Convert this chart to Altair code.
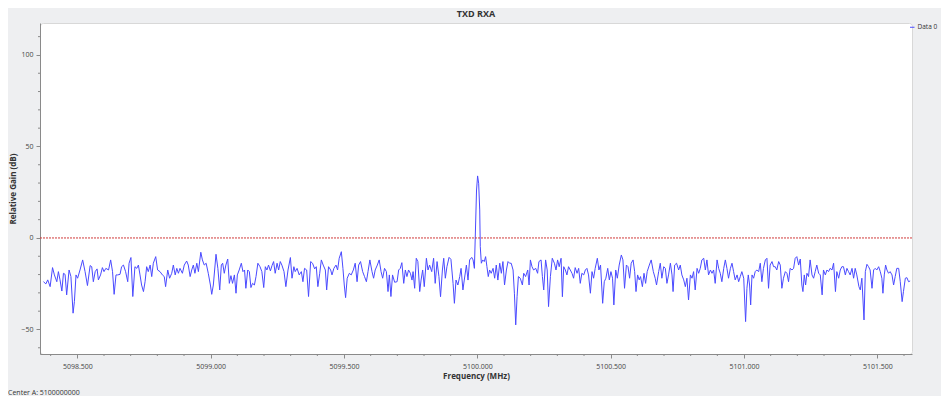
import altair as alt
import pandas as pd

# ---------------- data ----------------
freqA = [5098.373, 5098.382, 5098.389, 5098.398, 5098.407, 5098.414, 5098.423, 5098.429, 5098.435, 5098.442,
         5098.448, 5098.454, 5098.460, 5098.469, 5098.476, 5098.484, 5098.489, 5098.495, 5098.501, 5098.510,
         5098.520, 5098.529, 5098.538, 5098.548, 5098.554, 5098.560, 5098.567, 5098.574, 5098.579, 5098.587,
         5098.594, 5098.600, 5098.607, 5098.617, 5098.625, 5098.632, 5098.638, 5098.645, 5098.651, 5098.660,
         5098.666, 5098.673, 5098.681, 5098.689, 5098.694, 5098.701, 5098.708, 5098.716, 5098.723, 5098.729,
         5098.735, 5098.741, 5098.748, 5098.754, 5098.760, 5098.766, 5098.773, 5098.779, 5098.785, 5098.794,
         5098.801, 5098.810, 5098.819, 5098.826, 5098.831, 5098.839, 5098.846, 5098.854, 5098.860, 5098.867,
         5098.873, 5098.879, 5098.885, 5098.894, 5098.901, 5098.910, 5098.916, 5098.923, 5098.929, 5098.935,
         5098.941, 5098.948, 5098.954, 5098.963, 5098.969, 5098.976, 5098.983, 5098.991, 5098.999, 5099.004,
         5099.010]
gainA = [-23.9, -25.1, -22.9, -26.6, -16.2, -20.2, -23.9, -18.4, -22.9, -29.0,
         -19.3, -19.9, -31.1, -17.5, -21.1, -41.1, -34.8, -20.2, -22.0, -17.5,
         -12.0, -18.4, -26.0, -15.1, -15.7, -23.9, -18.4, -16.9, -22.9, -20.2,
         -16.2, -18.4, -16.6, -17.5, -12.0, -18.4, -30.8, -20.2, -20.2, -19.9,
         -15.7, -14.8, -18.4, -23.9, -13.8, -10.7, -32.0, -15.7, -16.6, -14.8,
         -20.2, -25.7, -29.3, -23.9, -15.7, -18.4, -14.8, -21.1, -13.8, -10.2,
         -17.5, -18.4, -20.2, -21.1, -26.6, -17.5, -22.0, -19.3, -14.8, -20.2,
         -16.6, -19.3, -16.6, -19.3, -14.8, -12.6, -14.8, -21.1, -17.5, -14.8,
         -19.3, -13.8, -18.4, -7.8, -12.0, -14.8, -13.8, -19.3, -25.7, -30.8,
         -25.7]

freqB = [5099.020, 5099.027, 5099.034, 5099.040, 5099.045, 5099.051, 5099.057, 5099.064, 5099.070, 5099.076,
         5099.082, 5099.089, 5099.095, 5099.100, 5099.107, 5099.115, 5099.121, 5099.127, 5099.132, 5099.139,
         5099.145, 5099.151, 5099.157, 5099.164, 5099.170, 5099.177, 5099.185, 5099.192, 5099.199, 5099.205,
         5099.211, 5099.217, 5099.224, 5099.230, 5099.236, 5099.242, 5099.249, 5099.255, 5099.261, 5099.267,
         5099.275, 5099.282, 5099.290, 5099.299, 5099.305, 5099.312, 5099.317, 5099.324, 5099.332, 5099.340,
         5099.346, 5099.352, 5099.360, 5099.367, 5099.375, 5099.382, 5099.390, 5099.396, 5099.402, 5099.409,
         5099.415, 5099.422, 5099.430, 5099.435, 5099.442, 5099.450, 5099.455, 5099.462, 5099.470, 5099.476,
         5099.482, 5099.490, 5099.496, 5099.501, 5099.506, 5099.512, 5099.520, 5099.527, 5099.535, 5099.542,
         5099.549, 5099.555, 5099.562, 5099.570, 5099.577, 5099.584, 5099.590, 5099.597, 5099.605, 5099.611,
         5099.617, 5099.625, 5099.632, 5099.639, 5099.645, 5099.652, 5099.659, 5099.665, 5099.670, 5099.676,
         5099.682, 5099.690]
gainB = [-8.9, -16.6, -28.4, -14.8, -13.8, -19.3, -14.8, -11.5, -24.8, -20.6,
         -24.8, -20.2, -30.2, -20.2, -17.5, -13.8, -18.4, -17.5, -27.5, -17.5,
         -18.4, -27.1, -24.8, -25.7, -21.1, -13.8, -15.7, -18.4, -27.1, -15.7,
         -17.5, -14.8, -18.0, -15.1, -12.9, -19.3, -13.8, -17.5, -12.9, -14.8,
         -18.4, -26.6, -17.5, -10.7, -22.0, -15.7, -18.4, -16.6, -20.2, -18.4,
         -23.9, -16.6, -17.5, -32.0, -12.9, -13.8, -16.9, -15.7, -26.6, -19.3,
         -12.0, -14.8, -17.5, -28.4, -15.7, -17.5, -20.2, -16.6, -14.8, -17.5,
         -11.1, -7.5, -16.6, -25.7, -32.6, -22.0, -19.3, -20.2, -17.5, -13.8,
         -23.9, -14.8, -12.9, -18.4, -21.1, -23.9, -18.4, -12.0, -18.4, -22.0,
         -17.5, -14.8, -12.0, -18.4, -22.0, -16.6, -18.4, -29.3, -20.2, -32.0,
         -20.2, -24.2]

freqC = [5099.699, 5099.705, 5099.711, 5099.717, 5099.724, 5099.730, 5099.736, 5099.742, 5099.749, 5099.755,
         5099.759, 5099.765, 5099.771, 5099.777, 5099.784, 5099.789, 5099.795, 5099.801, 5099.809, 5099.815,
         5099.821, 5099.829, 5099.836, 5099.842, 5099.849, 5099.856, 5099.862, 5099.869, 5099.874, 5099.880,
         5099.886, 5099.894, 5099.901, 5099.909, 5099.914, 5099.920, 5099.927, 5099.934, 5099.939, 5099.946,
         5099.951, 5099.959, 5099.965, 5099.971, 5099.979, 5099.984, 5099.989, 5099.994, 5099.997, 5100.001,
         5100.005, 5100.009, 5100.011, 5100.015, 5100.020, 5100.026, 5100.031, 5100.036, 5100.041, 5100.046,
         5100.052, 5100.059, 5100.065, 5100.071, 5100.077, 5100.084, 5100.090, 5100.096, 5100.102, 5100.109,
         5100.115, 5100.121, 5100.127, 5100.134, 5100.139, 5100.144, 5100.149, 5100.154, 5100.161, 5100.169,
         5100.174, 5100.181, 5100.189, 5100.194, 5100.199, 5100.205, 5100.211, 5100.219, 5100.226, 5100.231,
         5100.239, 5100.244, 5100.249, 5100.256, 5100.262, 5100.267, 5100.274, 5100.281, 5100.289, 5100.295,
         5100.301, 5100.307, 5100.314, 5100.319, 5100.324, 5100.330, 5100.336, 5100.342]
gainC = [-23.9, -17.5, -16.6, -13.5, -24.8, -17.5, -21.1, -17.5, -19.3, -23.0,
         -18.4, -27.5, -11.1, -12.9, -29.3, -23.0, -17.5, -26.6, -11.1, -17.5,
         -14.8, -18.4, -11.1, -24.8, -12.9, -21.1, -32.1, -17.5, -11.1, -22.0,
         -15.7, -10.6, -11.7, -24.8, -35.7, -23.0, -25.7, -21.1, -16.6, -28.4,
         -23.0, -14.8, -23.0, -12.0, -10.6, -12.0, -16.6, 9.8, 26.2, 33.9,
         29.9, 15.3, -4.7, -13.8, -12.0, -12.9, -10.2, -15.7, -21.1, -17.5,
         -19.3, -16.6, -22.0, -14.8, -23.0, -13.8, -19.3, -12.9, -25.7, -17.5,
         -12.9, -13.8, -13.8, -17.5, -30.2, -47.5, -32.1, -21.1, -22.0, -25.7,
         -19.3, -21.1, -17.5, -25.7, -12.0, -15.7, -17.5, -16.6, -19.3, -12.9,
         -12.0, -21.1, -28.4, -12.0, -17.5, -37.5, -21.1, -11.1, -13.8, -17.5,
         -12.0, -15.7, -11.1, -32.1, -15.7, -17.5, -20.2, -15.7]

freqD = [5100.355, 5100.361, 5100.367, 5100.374, 5100.380, 5100.386, 5100.392, 5100.399, 5100.405, 5100.411,
         5100.417, 5100.424, 5100.430, 5100.436, 5100.442, 5100.450, 5100.456, 5100.462, 5100.470, 5100.476,
         5100.482, 5100.489, 5100.495, 5100.501, 5100.507, 5100.512, 5100.519, 5100.525, 5100.532, 5100.540,
         5100.546, 5100.552, 5100.559, 5100.565, 5100.571, 5100.577, 5100.584, 5100.590, 5100.595, 5100.601,
         5100.607, 5100.612, 5100.619, 5100.625, 5100.631, 5100.637, 5100.645, 5100.652, 5100.660, 5100.667,
         5100.672, 5100.680, 5100.686, 5100.692, 5100.699, 5100.705, 5100.711, 5100.717, 5100.724, 5100.730,
         5100.734, 5100.740, 5100.747, 5100.755, 5100.761, 5100.767, 5100.774, 5100.780, 5100.786, 5100.792,
         5100.799, 5100.805, 5100.811, 5100.817, 5100.824, 5100.830, 5100.836, 5100.842, 5100.849, 5100.855,
         5100.861, 5100.867, 5100.874, 5100.880, 5100.886, 5100.892, 5100.899, 5100.905, 5100.911, 5100.917,
         5100.924, 5100.930, 5100.936, 5100.942, 5100.949, 5100.955, 5100.961, 5100.967, 5100.974, 5100.980,
         5100.986, 5100.992, 5100.999]
gainD = [-19.3, -22.0, -16.2, -19.3, -16.6, -24.8, -19.3, -20.2, -17.5, -16.6,
         -20.2, -30.2, -18.4, -22.0, -16.6, -11.1, -17.5, -14.8, -35.7, -23.9,
         -22.0, -16.6, -22.9, -18.4, -22.0, -36.6, -17.5, -22.0, -14.8, -9.3,
         -12.0, -27.5, -14.8, -15.7, -22.0, -13.8, -12.0, -18.4, -29.3, -20.2,
         -22.9, -21.1, -26.6, -19.3, -24.8, -18.4, -14.8, -12.0, -18.4, -22.0,
         -25.7, -18.4, -13.8, -22.0, -15.7, -16.6, -24.8, -20.2, -13.8, -20.2,
         -29.3, -14.8, -13.8, -17.5, -14.8, -20.2, -22.9, -26.6, -22.0, -33.9,
         -20.2, -22.0, -18.4, -28.4, -16.6, -19.3, -16.6, -12.0, -11.1, -17.5,
         -12.0, -20.2, -17.5, -19.3, -17.5, -24.8, -12.0, -16.6, -19.3, -23.9,
         -16.6, -12.0, -16.6, -22.0, -16.6, -13.8, -18.4, -22.9, -20.2, -23.9,
         -21.1, -18.4, -22.0]

freqE = [5101.006, 5101.011, 5101.016, 5101.021, 5101.025, 5101.030, 5101.036, 5101.042, 5101.048, 5101.055,
         5101.061, 5101.067, 5101.073, 5101.080, 5101.086, 5101.092, 5101.098, 5101.105, 5101.111, 5101.117,
         5101.123, 5101.130, 5101.136, 5101.142, 5101.148, 5101.155, 5101.161, 5101.167, 5101.173, 5101.180,
         5101.186, 5101.192, 5101.198, 5101.205, 5101.211, 5101.217, 5101.221, 5101.226, 5101.231, 5101.236,
         5101.242, 5101.248, 5101.255, 5101.261, 5101.267, 5101.273, 5101.280, 5101.286, 5101.293, 5101.298,
         5101.305, 5101.311, 5101.317, 5101.323, 5101.330, 5101.336, 5101.343, 5101.348, 5101.355, 5101.361,
         5101.367, 5101.373, 5101.380, 5101.386, 5101.392, 5101.398, 5101.405, 5101.411, 5101.417, 5101.423,
         5101.431, 5101.436, 5101.442, 5101.450, 5101.455, 5101.461, 5101.467, 5101.473, 5101.480, 5101.486,
         5101.492, 5101.498, 5101.505, 5101.511, 5101.517, 5101.521, 5101.526, 5101.531, 5101.536, 5101.542,
         5101.548, 5101.555, 5101.561, 5101.567, 5101.573, 5101.580, 5101.586, 5101.593, 5101.598, 5101.605,
         5101.611, 5101.617, 5101.623]
gainE = [-45.7, -27.5, -20.2, -25.7, -36.6, -20.2, -22.0, -18.4, -17.5, -18.4,
         -13.8, -23.9, -16.6, -12.0, -11.1, -27.5, -14.8, -12.9, -15.7, -15.7,
         -17.5, -12.9, -14.8, -27.5, -22.0, -18.4, -19.3, -23.9, -16.6, -17.5,
         -16.6, -11.1, -10.2, -14.8, -11.5, -25.7, -29.3, -20.2, -25.7, -19.3,
         -21.1, -12.0, -20.2, -22.0, -18.4, -14.8, -19.3, -20.2, -31.1, -17.5,
         -20.2, -17.5, -18.4, -16.6, -17.5, -13.8, -29.3, -18.4, -22.0, -17.5,
         -15.7, -15.7, -20.2, -16.6, -18.4, -20.2, -16.6, -22.0, -16.6, -20.2,
         -26.6, -28.4, -22.0, -44.8, -18.4, -14.4, -15.7, -17.5, -27.5, -17.5,
         -16.6, -17.5, -15.7, -18.4, -22.0, -30.2, -20.2, -14.8, -17.5, -19.3,
         -18.4, -20.2, -25.7, -21.1, -16.6, -16.6, -23.9, -34.8, -29.3, -22.0,
         -21.7, -23.9, -23.5]

series_name = "Data 0"
reference_level = [0]
x_ticks = [5098.5, 5099.0, 5099.5, 5100.0, 5100.5, 5101.0, 5101.5]
x_minor = [5098.4, 5098.6, 5098.7, 5098.8, 5098.9, 5099.1, 5099.2, 5099.3, 5099.4,
           5099.6, 5099.7, 5099.8, 5099.9, 5100.1, 5100.2, 5100.3, 5100.4,
           5100.6, 5100.7, 5100.8, 5100.9, 5101.1, 5101.2, 5101.3, 5101.4, 5101.6]
y_ticks = [-50, 0, 50, 100]
y_minor = [-60, -40, -30, -20, -10, 10, 20, 30, 40, 60, 70, 80, 90, 110]
footer_text = ["Center A: 5100000000"]

for f, g in [(freqA, gainA), (freqB, gainB), (freqC, gainC), (freqD, gainD), (freqE, gainE)]:
    assert len(f) == len(g), (len(f), len(g))

freq = freqA + freqB + freqC + freqD + freqE
gain = gainA + gainB + gainC + gainD + gainE
df = pd.DataFrame({"freq": freq, "gain": gain, "series": series_name})

# ---------------- chart ----------------
FONT = "Open Sans"
W, H = 872, 331
xs = alt.Scale(domain=[5098.36, 5101.63], nice=False, zero=False)
ys = alt.Scale(domain=[-63.4, 117.45], nice=False, zero=False)
XT = "Frequency (MHz)"
YT = "Relative Gain (dB)"
x_axis = alt.Axis(values=x_ticks, format=".3f", tickSize=4, labelPadding=4,
                  titlePadding=3, grid=False)
y_axis = alt.Axis(values=y_ticks, tickSize=4, labelPadding=3,
                  titlePadding=3, grid=False)

line = alt.Chart(df).mark_line(strokeWidth=1, clip=True).encode(
    x=alt.X("freq:Q", scale=xs, title=XT, axis=x_axis),
    y=alt.Y("gain:Q", scale=ys, title=YT, axis=y_axis),
    color=alt.Color("series:N",
                    scale=alt.Scale(domain=[series_name], range=["#4a4aff"]),
                    legend=alt.Legend(orient="none", legendX=869, legendY=1, title=None,
                                      symbolType="stroke", symbolSize=20, symbolStrokeWidth=1,
                                      labelFontSize=6.5, labelColor="#333", labelFont=FONT,
                                      labelOffset=2, padding=0)),
)

zero = alt.Chart(pd.DataFrame({"v": reference_level})).mark_rule(
    color="#d03a3a", strokeDash=[2, 1], strokeWidth=1
).encode(y=alt.Y("v:Q", scale=ys, title=YT, axis=y_axis))

xminor = alt.Chart(pd.DataFrame({"v": x_minor})).mark_rule(color="#8a8a8a", strokeWidth=1).encode(
    x=alt.X("v:Q", scale=xs, title=XT, axis=x_axis),
    y=alt.value(H), y2=alt.value(H + 2))

yminor = alt.Chart(pd.DataFrame({"v": y_minor})).mark_rule(color="#8a8a8a", strokeWidth=1).encode(
    y=alt.Y("v:Q", scale=ys, title=YT, axis=y_axis),
    x=alt.value(-2), x2=alt.value(0))

footer = alt.Chart(pd.DataFrame({"t": footer_text})).mark_text(
    align="left", baseline="alphabetic", fontSize=7, font=FONT, color="#333"
).encode(x=alt.value(-32), y=alt.value(372), text="t:N")

chart = alt.layer(line, zero, xminor, yminor, footer).properties(
    width=W, height=H,
    autosize=alt.AutoSizeParams(type="none"),
    padding={"left": 32, "top": 15, "right": 29, "bottom": 42},
    background="#eeeff1",
    title=alt.TitleParams("TXD RXA", fontSize=9, fontWeight="bold", font=FONT,
                          anchor="middle", offset=4, color="#333"),
).configure_view(
    fill="white", stroke="#d8d8d8", cornerRadius=3
).configure_axis(
    labelFont=FONT, titleFont=FONT, labelFontSize=7, titleFontSize=8, titleFontWeight="bold",
    labelColor="#444", titleColor="#333", domainColor="#8a8a8a", tickColor="#8a8a8a",
    domainWidth=1, tickWidth=1
)

chart.save("out.html", embed_options={"renderer": "svg", "actions": False})
